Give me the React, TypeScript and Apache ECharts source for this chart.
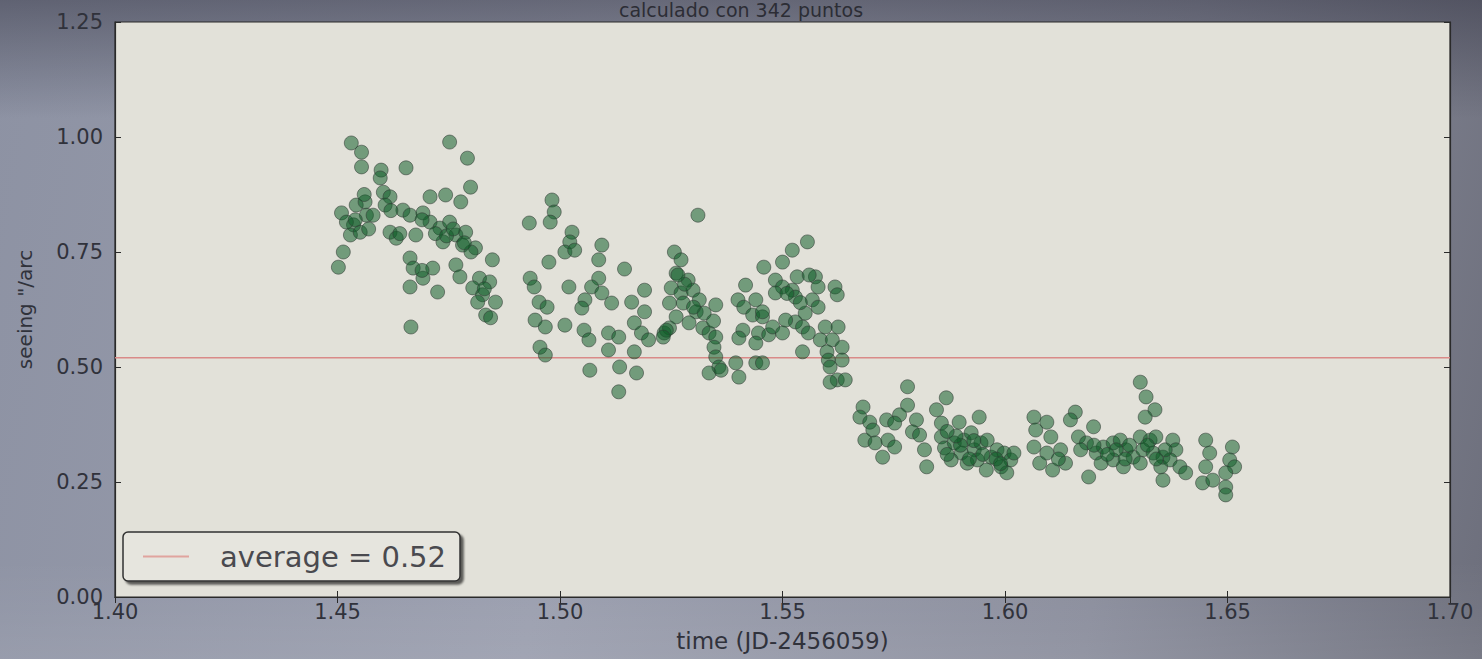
import React, { useEffect, useRef } from "react";
import * as echarts from "echarts";

const TITLE = "calculado con 342 puntos";
const X_LABEL = "time (JD-2456059)";
const Y_LABEL = 'seeing "/arc';
const AVERAGE = 0.52;
const AVERAGE_NAME = "average = 0.52";
const X_TICKS = [1.4, 1.45, 1.5, 1.55, 1.6, 1.65, 1.7];
const Y_TICKS = [0, 0.25, 0.5, 0.75, 1.0, 1.25];

const cluster1: [number, number][] = [
  [1.4531, 0.987], [1.4554, 0.967], [1.4554, 0.935], [1.4598, 0.928], [1.4596, 0.911],
  [1.4654, 0.933], [1.4752, 0.989], [1.4792, 0.954], [1.4799, 0.891], [1.4777, 0.859],
  [1.4743, 0.874], [1.4708, 0.87], [1.4603, 0.88], [1.4618, 0.87], [1.4509, 0.835],
  [1.4542, 0.852], [1.4562, 0.859], [1.4565, 0.83], [1.4536, 0.809], [1.4529, 0.787],
  [1.4551, 0.793], [1.4513, 0.75], [1.4502, 0.717], [1.4607, 0.852], [1.4647, 0.841],
  [1.4663, 0.83], [1.4618, 0.793], [1.4632, 0.78], [1.4692, 0.835], [1.4708, 0.815],
  [1.473, 0.802], [1.4752, 0.815], [1.4766, 0.787], [1.4788, 0.793], [1.4737, 0.772],
  [1.481, 0.759], [1.4781, 0.765], [1.4676, 0.787], [1.4663, 0.737], [1.467, 0.715],
  [1.4692, 0.693], [1.4663, 0.674], [1.4714, 0.715], [1.4725, 0.663], [1.4766, 0.722],
  [1.4775, 0.696], [1.4848, 0.733], [1.4819, 0.693], [1.4842, 0.685], [1.4804, 0.672],
  [1.4826, 0.657], [1.4855, 0.641], [1.4833, 0.613], [1.4844, 0.607], [1.4665, 0.587],
  [1.4815, 0.641], [1.452, 0.815], [1.458, 0.83], [1.457, 0.8], [1.472, 0.79],
  [1.4745, 0.785], [1.476, 0.8], [1.469, 0.82], [1.48, 0.75], [1.469, 0.71],
  [1.464, 0.79], [1.456, 0.875], [1.462, 0.84], [1.4785, 0.77], [1.483, 0.67], [1.454, 0.82],
];

const cluster2: [number, number][] = [
  [1.4982, 0.863], [1.4987, 0.837], [1.4978, 0.815], [1.4931, 0.813], [1.5027, 0.793],
  [1.5022, 0.772], [1.5011, 0.75], [1.5033, 0.754], [1.5094, 0.765], [1.5087, 0.733],
  [1.4975, 0.728], [1.5145, 0.713], [1.4933, 0.693], [1.4942, 0.674], [1.502, 0.674],
  [1.5087, 0.693], [1.5071, 0.674], [1.519, 0.667], [1.4953, 0.641], [1.4971, 0.63],
  [1.5056, 0.646], [1.5049, 0.628], [1.5094, 0.661], [1.5116, 0.639], [1.5161, 0.641],
  [1.519, 0.62], [1.4944, 0.602], [1.4967, 0.587], [1.5011, 0.591], [1.5054, 0.58],
  [1.5065, 0.559], [1.5109, 0.574], [1.5132, 0.565], [1.5167, 0.596], [1.5183, 0.574],
  [1.5199, 0.559], [1.5109, 0.537], [1.5167, 0.533], [1.4955, 0.543], [1.4967, 0.526],
  [1.5067, 0.493], [1.5134, 0.5], [1.5172, 0.487], [1.5132, 0.446], [1.5234, 0.574],
  [1.5246, 0.585],
];

const cluster3: [number, number][] = [
  [1.531, 0.83], [1.5257, 0.75], [1.5272, 0.733], [1.5261, 0.704], [1.5288, 0.689],
  [1.525, 0.672], [1.5272, 0.661], [1.5299, 0.667], [1.5246, 0.639], [1.5277, 0.639],
  [1.5313, 0.646], [1.5306, 0.62], [1.5324, 0.617], [1.5261, 0.609], [1.529, 0.596],
  [1.535, 0.635], [1.5239, 0.58], [1.5232, 0.565], [1.5321, 0.585], [1.5335, 0.574],
  [1.535, 0.565], [1.5346, 0.543], [1.535, 0.522], [1.5357, 0.5], [1.5335, 0.487],
  [1.5362, 0.493], [1.5395, 0.509], [1.5402, 0.478], [1.544, 0.509], [1.5455, 0.509],
  [1.5411, 0.58], [1.5417, 0.678], [1.54, 0.646], [1.5413, 0.63], [1.544, 0.646],
  [1.5433, 0.613], [1.5455, 0.609], [1.5446, 0.574], [1.544, 0.552], [1.5469, 0.57],
  [1.5478, 0.587], [1.5458, 0.717], [1.55, 0.728], [1.5522, 0.754], [1.5556, 0.772],
  [1.5484, 0.689], [1.55, 0.674], [1.5533, 0.696], [1.5522, 0.667], [1.5484, 0.661],
  [1.5529, 0.652], [1.5574, 0.696], [1.558, 0.674], [1.5567, 0.646], [1.558, 0.63],
  [1.5551, 0.617], [1.5529, 0.598], [1.5507, 0.602], [1.55, 0.574], [1.5545, 0.587],
  [1.5558, 0.574], [1.5618, 0.674], [1.5623, 0.657], [1.5596, 0.587], [1.5625, 0.587],
  [1.5585, 0.559], [1.5612, 0.559], [1.56, 0.533], [1.5634, 0.543], [1.5603, 0.515],
  [1.5634, 0.515], [1.5545, 0.533], [1.5607, 0.5], [1.5623, 0.472], [1.5607, 0.467],
  [1.5402, 0.563], [1.528, 0.68], [1.53, 0.63], [1.5265, 0.7], [1.551, 0.66],
  [1.554, 0.64], [1.556, 0.7], [1.5455, 0.62], [1.5345, 0.6],
];

const cluster4: [number, number][] = [
  [1.5641, 0.472], [1.5781, 0.457], [1.5868, 0.433], [1.5781, 0.417], [1.5681, 0.413],
  [1.5846, 0.407], [1.5674, 0.391], [1.5696, 0.38], [1.5763, 0.396], [1.5734, 0.385],
  [1.5752, 0.378], [1.5801, 0.385], [1.5792, 0.359], [1.5808, 0.352], [1.5703, 0.363],
  [1.5685, 0.341], [1.5708, 0.335], [1.5737, 0.341], [1.5752, 0.326], [1.5725, 0.304],
  [1.5819, 0.32], [1.5824, 0.283], [1.5857, 0.378], [1.5897, 0.38], [1.5942, 0.391],
  [1.5857, 0.348], [1.5864, 0.324], [1.5886, 0.335], [1.5908, 0.341], [1.5924, 0.357],
  [1.5902, 0.313], [1.5879, 0.298], [1.5931, 0.32], [1.5946, 0.335], [1.596, 0.341],
  [1.5938, 0.298], [1.5969, 0.304], [1.5982, 0.32], [1.5998, 0.313], [1.6013, 0.298],
  [1.5991, 0.283], [1.5958, 0.276], [1.6004, 0.27], [1.5915, 0.291], [1.59, 0.33],
  [1.592, 0.3], [1.595, 0.31], [1.598, 0.3], [1.589, 0.35], [1.587, 0.31],
  [1.593, 0.34], [1.599, 0.29], [1.587, 0.36],
];

const cluster5: [number, number][] = [
  [1.6304, 0.467], [1.6317, 0.435], [1.6337, 0.407], [1.6315, 0.391], [1.6065, 0.391],
  [1.6094, 0.38], [1.6158, 0.402], [1.6147, 0.385], [1.6069, 0.363], [1.6103, 0.348],
  [1.6199, 0.37], [1.6165, 0.348], [1.6183, 0.335], [1.6065, 0.326], [1.6094, 0.313],
  [1.6125, 0.32], [1.6078, 0.291], [1.6107, 0.276], [1.6136, 0.291], [1.6188, 0.261],
  [1.6205, 0.313], [1.6221, 0.326], [1.6243, 0.335], [1.6259, 0.341], [1.6216, 0.291],
  [1.6243, 0.298], [1.6272, 0.32], [1.6288, 0.304], [1.6266, 0.283], [1.6304, 0.348],
  [1.6326, 0.341], [1.6339, 0.348], [1.631, 0.32], [1.6333, 0.313], [1.6355, 0.304],
  [1.6304, 0.291], [1.635, 0.283], [1.6377, 0.341], [1.6384, 0.32], [1.6371, 0.298],
  [1.6393, 0.283], [1.6406, 0.27], [1.6355, 0.254], [1.6451, 0.341], [1.646, 0.313],
  [1.6451, 0.283], [1.6444, 0.248], [1.6467, 0.254], [1.6511, 0.326], [1.6505, 0.298],
  [1.6516, 0.283], [1.6496, 0.27], [1.6496, 0.239], [1.6496, 0.222], [1.602, 0.313],
  [1.625, 0.32], [1.628, 0.33], [1.632, 0.33], [1.623, 0.31], [1.62, 0.33],
  [1.636, 0.32], [1.617, 0.32], [1.612, 0.3], [1.627, 0.3], [1.634, 0.3],
];

const points = [...cluster1, ...cluster2, ...cluster3, ...cluster4, ...cluster5];

export default function App() {
  const ref = useRef<HTMLDivElement>(null);
  useEffect(() => {
    if (!ref.current) return;
    const chart = echarts.init(ref.current, null, { renderer: "svg" });
    const labelColor = "#30323b";
    const axisCommon = {
      axisLine: { show: true, lineStyle: { color: "#2a2a2a", width: 1.2 } },
      axisTick: { show: true, inside: true, length: 6, lineStyle: { color: "#2a2a2a" } },
      splitLine: { show: false },
    };
    chart.setOption({
      animation: false,
      backgroundColor: "transparent",
      title: {
        text: TITLE,
        left: "center",
        top: 0,
        padding: 0,
        textStyle: { fontSize: 19, lineHeight: 20, fontWeight: "normal", color: "#2c2d35", fontFamily: "DejaVu Sans" },
      },
      grid: {
        left: 115,
        right: 32,
        top: 22,
        bottom: 62,
        show: true,
        backgroundColor: "#e2e1d9",
        borderColor: "#2a2a2a",
        borderWidth: 1.2,
      },
      legend: {
        left: 123,
        top: 532,
        padding: [10, 14, 10, 20],
        itemWidth: 46,
        itemHeight: 2,
        itemGap: 10,
        backgroundColor: "#e6e5de",
        borderColor: "#303030",
        borderWidth: 1.5,
        borderRadius: 5,
        shadowColor: "rgba(0,0,0,0.6)",
        shadowOffsetX: 3,
        shadowOffsetY: 3,
        shadowBlur: 2,
        data: [{ name: AVERAGE_NAME, icon: "rect" }],
        textStyle: { fontSize: 29, color: "#4a4a4f", fontFamily: "DejaVu Sans", padding: [0, 0, 0, 26] },
      },
      xAxis: [
        {
          type: "value",
          min: 1.4,
          max: 1.7,
          interval: 0.05,
          name: X_LABEL,
          nameLocation: "middle",
          nameGap: 32,
          nameTextStyle: { fontSize: 23, color: labelColor, fontFamily: "DejaVu Sans" },
          axisLabel: {
            fontSize: 21,
            color: labelColor,
            fontFamily: "DejaVu Sans",
            margin: 4,
            formatter: (v: number) => (X_TICKS.some((t) => Math.abs(t - v) < 1e-6) ? v.toFixed(2) : ""),
          },
          ...axisCommon,
        },
        {
          type: "value",
          position: "top",
          min: 1.4,
          max: 1.7,
          interval: 0.05,
          axisLabel: { show: false },
          ...axisCommon,
        },
      ],
      yAxis: [
        {
          type: "value",
          min: 0,
          max: 1.25,
          interval: 0.25,
          name: Y_LABEL,
          nameLocation: "middle",
          nameGap: 80,
          nameTextStyle: { fontSize: 20, color: labelColor, fontFamily: "DejaVu Sans" },
          axisLabel: {
            fontSize: 21,
            color: labelColor,
            fontFamily: "DejaVu Sans",
            margin: 12,
            formatter: (v: number) => (Y_TICKS.some((t) => Math.abs(t - v) < 1e-6) ? v.toFixed(2) : ""),
          },
          ...axisCommon,
        },
        {
          type: "value",
          position: "right",
          min: 0,
          max: 1.25,
          interval: 0.25,
          axisLabel: { show: false },
          ...axisCommon,
        },
      ],
      series: [
        {
          type: "scatter",
          name: "seeing",
          data: points,
          symbolSize: 14,
          itemStyle: {
            color: "rgba(15,92,40,0.66)",
            borderColor: "rgba(50,58,54,0.7)",
            borderWidth: 1,
          },
          z: 3,
        },
        {
          type: "line",
          name: AVERAGE_NAME,
          data: [
            [1.4, AVERAGE],
            [1.7, AVERAGE],
          ],
          symbol: "none",
          lineStyle: { color: "#d98a88", width: 1.5 },
          itemStyle: { color: "#e0a49e" },
          z: 2,
        },
      ],
    });
    return () => chart.dispose();
  }, []);
  return (
    <div
      style={{
        position: "fixed",
        left: 0,
        top: 0,
        width: 1482,
        height: 659,
        background: "linear-gradient(100deg, #8d92a3 0%, #9a9eae 40%, #8a8d9c 75%, #6d6f7c 100%)",
      }}
    >
      <div
        style={{
          position: "absolute",
          inset: 0,
          background: "linear-gradient(180deg, rgba(40,40,55,0.45) 0%, rgba(0,0,0,0) 18%, rgba(0,0,0,0) 85%, rgba(255,255,255,0.08) 100%)",
        }}
      />
      <div ref={ref} style={{ position: "absolute", left: 0, top: 0, width: 1482, height: 659 }} />
    </div>
  );
}
